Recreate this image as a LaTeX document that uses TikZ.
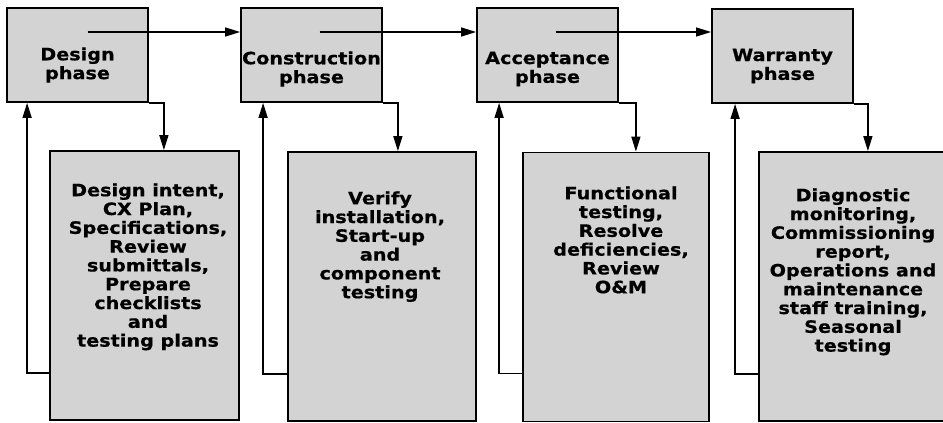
\documentclass[tikz,border=0pt]{standalone}
\usepackage{fontspec}
\setsansfont[FakeStretch=1.13,FakeBold=0.6]{DejaVu Sans}
\usetikzlibrary{arrows.meta,positioning}
\definecolor{boxgray}{RGB}{211,211,211}

\begin{document}
\begin{tikzpicture}[x=1pt,y=-1pt,
    phase/.style={draw,line width=1.8pt,fill=boxgray,minimum width=141pt,minimum height=94pt,inner sep=0pt},
    tasks/.style={draw,line width=1.8pt,fill=boxgray,minimum width=188pt,minimum height=269pt,inner sep=0pt},
    txt/.style={font=\sffamily\bfseries\fontsize{17}{18.8}\selectfont,align=center,inner sep=0pt},
    flow/.style={line width=1.4pt,-{Triangle[length=15pt,width=9pt]}}]
        \clip (0,0) rectangle (943,423);
        \fill [white] (0,0) rectangle (943,423);

        \node [phase] (design) at (77.5,55) {};
        \node [phase] (construction) at (311.5,55) {};
        \node [phase] (acceptance) at (547.5,55) {};
        \node [phase] (warranty) at (782.5,56) {};

        \node [tasks,minimum width=189pt] (designtasks) at (144.5,285.5) {};
        \node [tasks] (constructiontasks) at (382,286.5) {};
        \node [tasks,minimum width=186pt] (acceptancetasks) at (616,287) {};
        \node [tasks] (warrantytasks) at (853,286.5) {};

        \node [txt] at ([yshift=-10pt]design.center) {Design\\phase};
        \node [txt] at ([yshift=-14pt]construction.center) {Construction\\phase};
        \node [txt] at ([yshift=-14pt]acceptance.center) {Acceptance\\phase};
        \node [txt] at ([yshift=-10pt]warranty.center) {Warranty\\phase};

        \node [txt,anchor=north] at ([xshift=3.5pt,yshift=-33pt]designtasks.north)
          {Design intent,\\CX Plan,\\Specifications,\\Review\\submittals,\\Prepare\\checklists\\and\\testing plans};
        \node [txt,anchor=north] at ([xshift=-2pt,yshift=-40pt]constructiontasks.north)
          {Verify\\installation,\\Start-up\\and\\component\\testing};
        \node [txt,anchor=north] at ([xshift=5pt,yshift=-34.5pt]acceptancetasks.north)
          {Functional\\testing,\\Resolve\\deficiencies,\\Review\\O\&M};
        \node [txt,anchor=north] at ([yshift=-37pt]warrantytasks.north)
          {Diagnostic\\monitoring,\\Commissioning\\report,\\Operations and\\maintenance\\staff training,\\Seasonal\\testing};

        % phase to phase
        \draw [flow] ([xshift=10pt,yshift=23pt]design.center) coordinate (d1) -- (d1 -| construction.west);
        \draw [flow] ([xshift=8pt,yshift=23pt]construction.center) coordinate (c1) -- (c1 -| acceptance.west);
        \draw [flow] ([xshift=8pt,yshift=23pt]acceptance.center) coordinate (a1) -- (a1 -| warranty.west);

        % phase to tasks
        \draw [flow] (design.south east) -- ++(15,0) coordinate (d2) -- (d2 |- designtasks.north);
        \draw [flow] (construction.south east) -- ++(15,0) coordinate (c2) -- (c2 |- constructiontasks.north);
        \draw [flow] (acceptance.south east) -- ++(17,0) coordinate (a2) -- (a2 |- acceptancetasks.north);
        \draw [flow] (warranty.south east) -- ++(14,0) coordinate (w2) -- (w2 |- warrantytasks.north);

        % tasks back to phase
        \draw [flow] ([yshift=48pt]designtasks.south west) -| ([xshift=21pt]design.south west);
        \draw [flow] ([yshift=48pt]constructiontasks.south west) -| ([xshift=23pt]construction.south west);
        \draw [flow] ([yshift=49pt]acceptancetasks.south west) -| ([xshift=23pt]acceptance.south west);
        \draw [flow] ([yshift=48pt]warrantytasks.south west) -| ([xshift=24pt]warranty.south west);
    \end{tikzpicture}
\end{document}
